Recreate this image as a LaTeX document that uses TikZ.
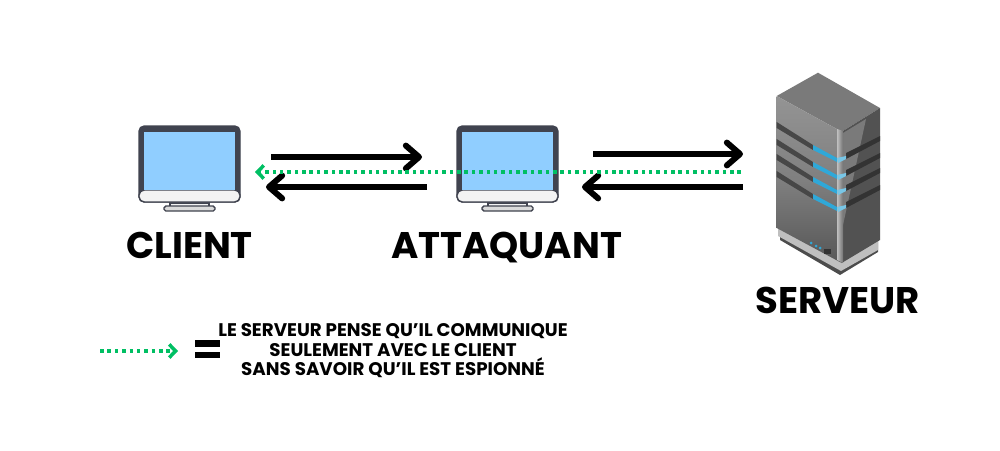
\documentclass[tikz,border=0pt]{standalone}
\usepackage{fontspec}
\setmainfont{Poppins}
\usetikzlibrary{arrows.meta,positioning}

\definecolor{framegrey}{HTML}{40434F}
\definecolor{screenblue}{HTML}{90CEFF}
\definecolor{chinwhite}{HTML}{F3F3F3}
\definecolor{spygreen}{HTML}{00BF63}
\definecolor{ledblue}{HTML}{2FA8D8}

\begin{document}
\begin{tikzpicture}[
  x=0.02cm, y=-0.02cm,
  link/.style={line width=3.4pt, -{Straight Barb[length=7.5pt, width=13pt, round]}},
  spylink/.style={spygreen, line width=2pt, dash pattern=on 2pt off 2.2pt, -{Straight Barb[length=3.6pt, width=7.5pt]}},
  hostlabel/.style={inner sep=0pt, anchor=base, font=\bfseries\fontsize{21.1}{24}\selectfont},
  notelabel/.style={inner sep=0pt, align=center, font=\bfseries\fontsize{10.4}{11.1}\selectfont},
  monframe/.style={draw=framegrey, fill=framegrey, line width=0.8pt, rounded corners=3pt},
  eqbar/.style={fill=black, inner sep=0pt, minimum width=14.2pt, minimum height=3.9pt}
]
  \useasboundingbox (0,0) rectangle (1000,450);

  % the two monitors
  \foreach \mx in {0,318}{
    \begin{scope}[xshift=\mx*0.02cm]
      \draw[draw=framegrey, fill=chinwhite, line width=0.8pt] (170,203) rectangle (209,207);
      \draw[draw=framegrey, fill=chinwhite!90!black, line width=0.8pt, rounded corners=1pt] (164,206) rectangle (215,211);
      \draw[monframe] (139,126) rectangle (240,202);
      \draw[draw=framegrey, fill=chinwhite, line width=0.8pt, rounded corners=3pt] (139,190) -- (139,202) -- (240,202) -- (240,190) -- cycle;
      \fill[screenblue] (144,132) rectangle (235,190);
    \end{scope}
  }
  \node[hostlabel] (client) at (189.5,258) {CLIENT};
  \node[hostlabel] (attaquant) at (506.5,258) {ATTAQUANT};

  % the server
  \fill[black!70] (780,240) -- (840,275) -- (878,252) -- (878,240) -- (780,235) -- cycle;
  \fill[black!25] (778,228) -- (778,236) -- (841,271) -- (878,250) -- (878,240) -- cycle;
  \fill[black!52] (818,72.7) -- (880,108) -- (841.7,131.7) -- (776.7,96) -- cycle;
  \shade[top color=black!42, bottom color=black!66, middle color=black!50]
    (776.7,96) -- (841.7,131.7) -- (841.7,263) -- (776.7,228) -- cycle;
  \fill[black!68] (841.7,131.7) -- (880,108) -- (880,240) -- (841.7,263) -- cycle;
  \fill[black!52] (843,133) -- (866,119) -- (843,225) -- cycle;
  \shade[left color=black!25, right color=black!55] (837,129) -- (843,131) -- (843,263) -- (837,260) -- cycle;
  \foreach \sy in {0,17,32,49}{
    \fill[black!72] (776.7,122+\sy) -- (813,145+\sy) -- (813,150+\sy) -- (776.7,128+\sy) -- cycle;
    \fill[black!80] (846,153+\sy) -- (880,136+\sy) -- (880,141+\sy) -- (846,159+\sy) -- cycle;
    \fill[ledblue] (813,145+\sy) -- (837,158+\sy) -- (837,162+\sy) -- (813,150+\sy) -- cycle;
    \fill[ledblue!65] (837,158+\sy) -- (846,156+\sy) -- (846,159+\sy) -- (838,163+\sy) -- cycle;
  }
  \fill[black!80] (824,249) rectangle (831,254);
  \foreach \lx/\ly in {811/243,816/246,820/248}{
    \fill[ledblue] (\lx,\ly) circle (1.5);
  }
  \node[hostlabel] (serveur) at (837.5,313.5) {SERVEUR};

  % ends of the connectors
  \coordinate (c1) at (271,157);
  \coordinate (a1) at (422,157);
  \coordinate (a2) at (427,187);
  \coordinate (c2) at (266,187);
  \coordinate (a3) at (593,154);
  \coordinate (s1) at (743,154);
  \coordinate (s2) at (743,187);
  \coordinate (a4) at (582,187);
  \coordinate (s3) at (741,172);
  \coordinate (c3) at (255,172);

  \draw[link] (c1) -- (a1);
  \draw[link] (a2) -- (c2);
  \draw[link] (a3) -- (s1);
  \draw[link] (s2) -- (a4);
  \draw[spylink] (s3) -- (c3);

  % legend
  \coordinate (l1) at (100,351);
  \coordinate (l2) at (178,351);
  \draw[spylink] (l1) -- (l2);
  \node[eqbar] (eq1) at (207.5,343.5) {};
  \node[eqbar] (eq2) at (207.5,355) {};
  \node[notelabel] (legend) at (393,351) {LE SERVEUR PENSE QU\symbol{39}IL COMMUNIQUE\\SEULEMENT AVEC LE CLIENT\\SANS SAVOIR QU\symbol{39}IL EST ESPIONNÉ};
\end{tikzpicture}
\end{document}
